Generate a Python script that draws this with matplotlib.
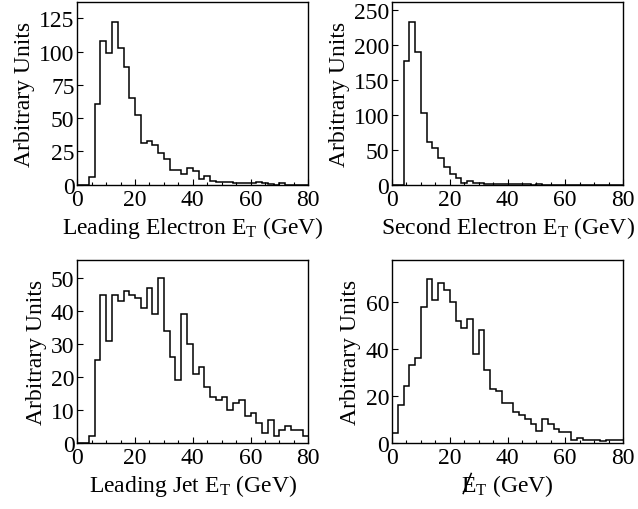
import numpy as np
import matplotlib
matplotlib.use("Agg")
import matplotlib.pyplot as plt
from matplotlib.lines import Line2D
from matplotlib.ticker import MultipleLocator

plt.rcParams['font.family'] = ['Liberation Serif', 'DejaVu Serif']
plt.rcParams['mathtext.fontset'] = 'custom'
plt.rcParams['mathtext.rm'] = 'Liberation Serif'
plt.rcParams['mathtext.it'] = 'Liberation Serif:italic'

edges = np.arange(0, 82, 2)

lead_electron = [0, 0, 6, 60.5, 108, 99, 122.5, 103, 88.5, 65,
                 52.5, 31, 33, 30, 23.5, 19.5, 11.3, 11.3, 8.3, 12.3,
                 10.3, 4.3, 6.3, 3, 1.8, 1.8, 2.3, 1, 1, 1,
                 1, 2, 1, 0.5, 0, 1, 0, 0, 0, 0]
second_electron = [0, 0, 177, 233, 189, 102, 61, 53, 38.5, 25,
                   15.7, 10, 3, 5, 3.5, 2.5, 1.5, 1, 1, 2,
                   1, 1, 2, 1, 0.5, 1, 0.5, 0, 0, 0,
                   0, 0, 0, 0, 0, 0, 0, 0, 0, 0]
lead_jet = [0, 0, 2, 25, 45, 31, 45, 43, 46, 45,
            44, 41, 47, 39, 50, 34, 26, 19, 39, 30,
            21, 23, 17, 14, 13, 14, 10, 12, 13, 8,
            9, 6, 3, 7, 2, 4, 5, 4, 4, 2]
missing_et = [4, 16, 24, 33, 36, 58, 70, 61, 68, 65,
              60, 52, 49, 53, 38, 48, 31, 23, 22, 17,
              17, 13, 12, 10, 8, 5, 10, 8, 6, 4.5,
              4.5, 1, 2, 1, 1, 1, 0.7, 1, 1, 1]

panels = [
    (lead_electron, (0, 137), 25, r"Leading Electron $\mathrm{E}_{\mathrm{T}}$ (GeV)"),
    (second_electron, (0, 260.5), 50, r"Second Electron $\mathrm{E}_{\mathrm{T}}$ (GeV)"),
    (lead_jet, (0, 55.5), 10, r"Leading Jet $\mathrm{E}_{\mathrm{T}}$ (GeV)"),
    (missing_et, (0, 78), 20, r"$\mathrm{E}_{\mathrm{T}}$ (GeV)"),
]

fig = plt.figure(figsize=(6.38, 5.10), dpi=100)
W, H = 638.0, 510.0
boxes = [(77.3, 3.3, 308.3, 185.7), (392, 3.3, 623, 186),
         (77.3, 261, 308.3, 443.7), (392, 261, 623, 443.7)]

axes = []
for (vals, ylim, ystep, xlabel), (x0, y0, x1, y1) in zip(panels, boxes):
    ax = fig.add_axes([x0 / W, 1 - y1 / H, (x1 - x0) / W, (y1 - y0) / H])
    ax.stairs(vals, edges, color='black', linewidth=1.1, baseline=None)
    ax.set_xlim(0, 80)
    ax.set_ylim(*ylim)
    ax.xaxis.set_major_locator(MultipleLocator(20))
    ax.xaxis.set_minor_locator(MultipleLocator(5))
    ax.yaxis.set_major_locator(MultipleLocator(ystep))
    ax.tick_params(axis='both', which='major', direction='in', length=4,
                   width=0.8, labelsize=17, top=False, right=False, pad=2)
    ax.tick_params(axis='x', which='major', pad=3)
    ax.tick_params(axis='x', which='minor', direction='in', length=2,
                   width=0.8, top=False)
    ax.tick_params(axis='y', which='minor', left=False, right=False)
    for s in ax.spines.values():
        s.set_linewidth(1.0)
    ax.set_xlabel(xlabel, fontsize=17, labelpad=3)
    ax.set_ylabel("Arbitrary Units", fontsize=17, labelpad=3)
    axes.append(ax)

# overlay the slash of the missing-ET symbol on the "E"
fig.canvas.draw()
renderer = fig.canvas.get_renderer()
bb = axes[3].xaxis.label.get_window_extent(renderer)
base = bb.y0 + 5.0
fig.add_artist(Line2D([(bb.x0 + 2.0) / W, (bb.x0 + 10.0) / W],
                      [(base - 0.5) / H, (base + 19.5) / H],
                      transform=fig.transFigure, color='black', linewidth=1.1))

fig.savefig("out.png", dpi=100)
